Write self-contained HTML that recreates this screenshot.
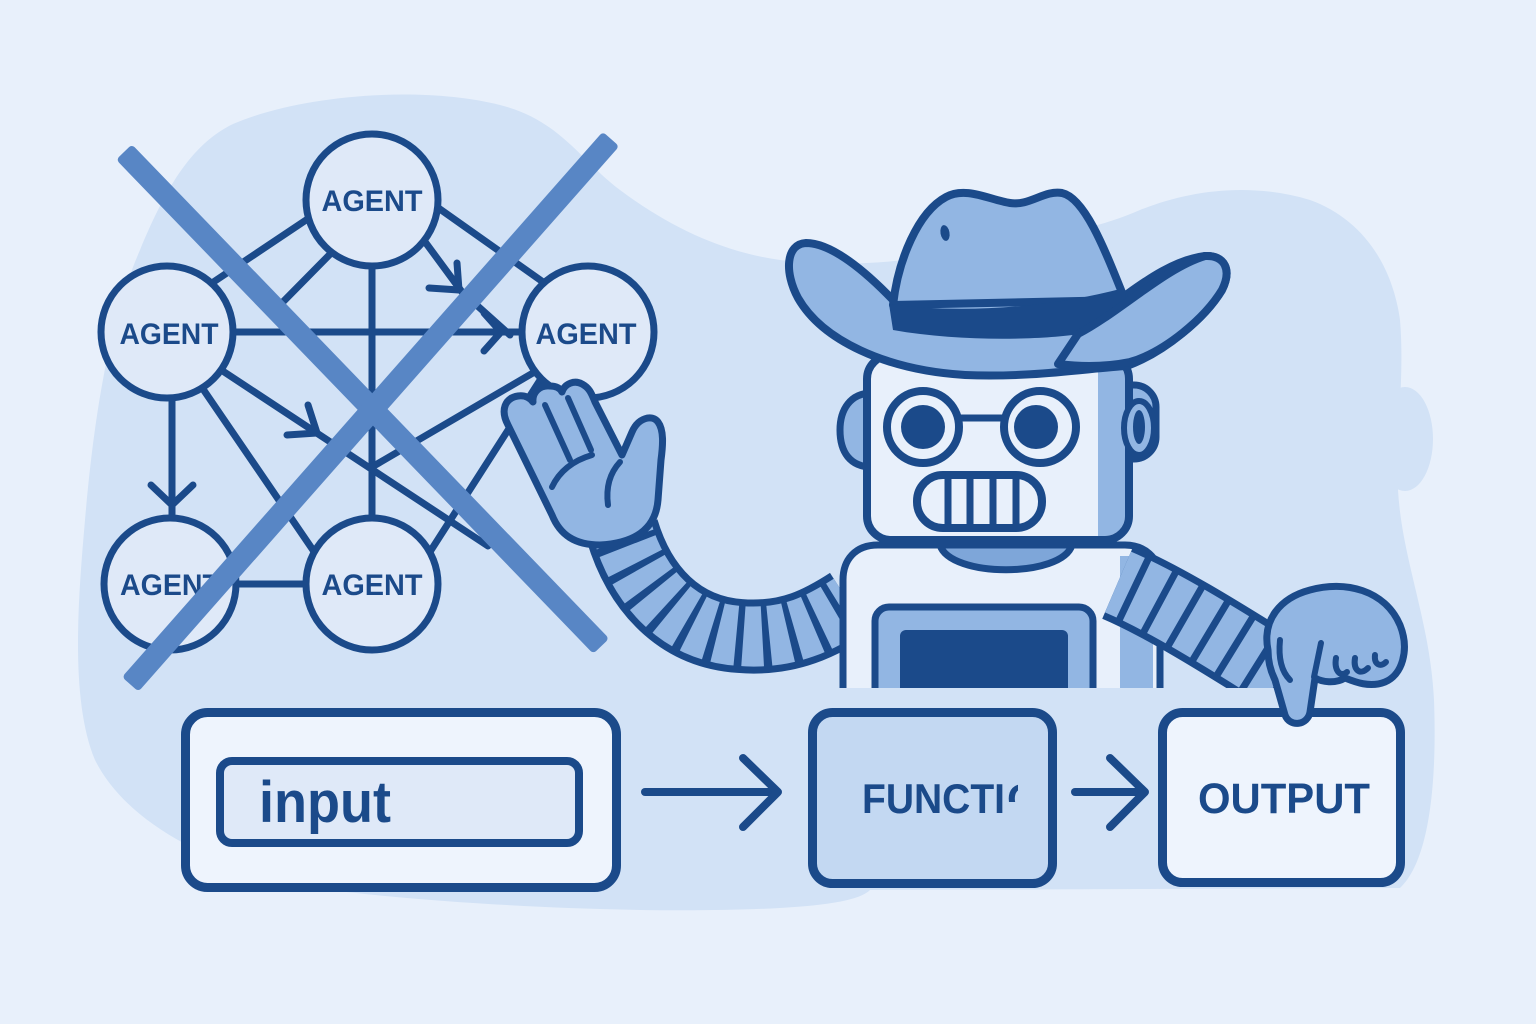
<!DOCTYPE html>
<html><head><meta charset="utf-8"><style>
html,body{margin:0;padding:0;background:#e8f0fb;}
svg{display:block;}
text{font-family:"Liberation Sans",Arial,sans-serif;font-weight:bold;fill:#1b4a8a;}
</style></head><body>
<svg width="1536" height="1024" viewBox="0 0 1536 1024" xmlns="http://www.w3.org/2000/svg">
<defs>
<clipPath id="cb"><rect x="0" y="0" width="1536" height="688"/></clipPath>
<clipPath id="co"><rect x="1004" y="770" width="14" height="32"/></clipPath>
<clipPath id="headclip"><rect x="871" y="359" width="254" height="177" rx="20"/></clipPath>
</defs>
<rect width="1536" height="1024" fill="#e8f0fb"/>
<!-- background blob -->
<path fill="#d2e2f6" d="M 233 124 C 300 95 420 85 500 105 C 560 120 580 160 620 190 C 680 235 740 258 800 262 C 860 266 900 262 960 252 C 1030 240 1090 232 1140 210 C 1190 190 1250 182 1310 200 C 1360 218 1392 262 1400 320 C 1405 380 1395 440 1398 490 C 1402 560 1430 620 1434 700 C 1437 780 1430 860 1400 888 L 870 890 C 860 900 830 905 780 908 C 650 915 450 905 330 890 C 230 875 130 830 95 760 C 70 700 78 600 85 520 C 92 440 105 330 140 250 C 165 190 190 145 233 124 Z"/>
<ellipse cx="1405" cy="439" rx="28" ry="52" fill="#d2e2f6"/>

<!-- network lines -->
<g stroke="#1b4a8a" stroke-width="7" stroke-linecap="round" stroke-linejoin="round" fill="none">
<line x1="330" y1="204" x2="200" y2="291"/>
<line x1="420" y1="195" x2="560" y2="294"/>
<polyline points="420,235 462,292 510,335"/>
<line x1="345" y1="239" x2="275" y2="310"/>
<line x1="372" y1="200" x2="372" y2="584"/>
<line x1="167" y1="332" x2="588" y2="332"/>
<line x1="200" y1="356" x2="488" y2="546"/>
<line x1="550" y1="363" x2="372" y2="467"/>
<line x1="190" y1="370" x2="330" y2="575"/>
<line x1="172" y1="380" x2="172" y2="530"/>
<line x1="170" y1="584" x2="372" y2="584"/>
<line x1="410" y1="583" x2="560" y2="349"/>
<!-- chevrons -->
<polyline points="429,288 459,290 457,263"/>
<polyline points="484,313 501,332 484,351"/>
<polyline points="287,435 317,433 308,405"/>
<polyline points="151,485 172,505 193,485"/>
</g>
<!-- agent circles -->
<g fill="#dfe9f8" stroke="#1b4a8a" stroke-width="7">
<circle cx="372" cy="200" r="66"/>
<circle cx="167" cy="332" r="66"/>
<circle cx="588" cy="332" r="66"/>
<circle cx="170" cy="584" r="66"/>
<circle cx="372" cy="584" r="66"/>
</g>
<g font-size="30" text-anchor="middle">
<text x="372" y="211" textLength="101" lengthAdjust="spacingAndGlyphs">AGENT</text>
<text x="169" y="344" textLength="99" lengthAdjust="spacingAndGlyphs">AGENT</text>
<text x="586" y="344" textLength="101" lengthAdjust="spacingAndGlyphs">AGENT</text>
<text x="170" y="595" textLength="100" lengthAdjust="spacingAndGlyphs">AGENT</text>
<text x="372" y="595" textLength="101" lengthAdjust="spacingAndGlyphs">AGENT</text>
</g>
<!-- X band -->
<g fill="#5886c5">
<rect x="0" y="-11" width="687" height="22" rx="4" transform="translate(124,152) rotate(46)"/>
<rect x="0" y="-11" width="727" height="22" rx="4" transform="translate(611,139) rotate(131.4)"/>
</g>

<!-- left arm -->
<g fill="none" stroke-linecap="butt">
<path d="M 622 530 C 640 590 680 632 740 636 C 790 640 822 622 850 604" stroke="#1b4a8a" stroke-width="74"/>
<path d="M 622 530 C 640 590 680 632 740 636 C 790 640 822 622 850 604" stroke="#92b6e3" stroke-width="60"/>
<path d="M 622 530 C 640 590 680 632 740 636 C 790 640 822 622 850 604" stroke="#1b4a8a" stroke-width="62" stroke-dasharray="7 19" stroke-dashoffset="-10"/>
</g>
<!-- left hand -->
<path fill="#92b6e3" stroke="#1b4a8a" stroke-width="7" stroke-linejoin="round" d="M 600 545 C 575 545 560 535 552 515 L 508 425 C 500 410 505 398 518 396 C 525 395 530 398 533 402 C 532 392 540 385 550 386 C 556 386 560 388 562 392 C 565 383 575 380 582 384 C 590 388 592 395 595 402 L 622 455 L 632 432 C 638 418 652 414 658 422 C 664 430 663 445 661 460 L 658 500 C 656 525 640 543 600 545 Z"/>
<g fill="none" stroke="#1b4a8a" stroke-width="6" stroke-linecap="round">
<line x1="545" y1="405" x2="570" y2="460"/>
<line x1="568" y1="398" x2="591" y2="450"/>
<path d="M 552 487 C 560 470 575 460 592 455"/>
<path d="M 620 462 C 608 475 606 490 608 505"/>
</g>

<!-- body -->
<g clip-path="url(#cb)">
<path d="M 843 700 L 843 580 C 843 560 855 545 878 545 L 1125 545 C 1145 545 1158 558 1160 575 L 1160 700 Z" fill="#e8f0fb" stroke="#1b4a8a" stroke-width="7"/>
<rect x="1120" y="556" width="33" height="140" fill="#92b6e3"/>
<rect x="875" y="607" width="218" height="100" rx="14" fill="#92b6e3" stroke="#1b4a8a" stroke-width="7"/>
<rect x="900" y="630" width="168" height="80" rx="6" fill="#1b4a8a"/>
<!-- right arm -->
<path d="M 1118 582 C 1160 600 1210 630 1292 682" fill="none" stroke="#1b4a8a" stroke-width="80"/>
<path d="M 1118 582 C 1160 600 1210 630 1292 682" fill="none" stroke="#92b6e3" stroke-width="66"/>
<path d="M 1118 582 C 1160 600 1210 630 1292 682" fill="none" stroke="#1b4a8a" stroke-width="68" stroke-dasharray="7 22" stroke-dashoffset="-14"/>
</g>
<!-- neck -->
<path d="M 940 545 C 950 578 1062 578 1072 545 Z" fill="#7ea6d9" stroke="#1b4a8a" stroke-width="7" stroke-linejoin="round"/>
<!-- ears -->
<path d="M 872 393 C 850 393 840 410 840 430 C 840 452 850 467 872 467 Z" fill="#92b6e3" stroke="#1b4a8a" stroke-width="7"/>
<rect x="1108" y="385" width="48" height="74" rx="22" fill="#92b6e3" stroke="#1b4a8a" stroke-width="7"/>
<!-- head -->
<rect x="867" y="355" width="262" height="185" rx="24" fill="#e8f0fb"/>
<g clip-path="url(#headclip)"><rect x="1098" y="355" width="30" height="185" fill="#92b6e3"/></g>
<rect x="867" y="355" width="262" height="185" rx="24" fill="none" stroke="#1b4a8a" stroke-width="8"/>
<ellipse cx="1139" cy="428" rx="15" ry="27" fill="#92b6e3" stroke="#1b4a8a" stroke-width="6"/>
<ellipse cx="1139" cy="427" rx="6" ry="17" fill="#1b4a8a"/>
<!-- glasses -->
<g stroke="#1b4a8a" stroke-width="8" fill="#e8f0fb">
<circle cx="923" cy="427" r="36"/>
<circle cx="1040" cy="427" r="36"/>
</g>
<circle cx="923" cy="427" r="22" fill="#1b4a8a"/>
<circle cx="1036" cy="427" r="22" fill="#1b4a8a"/>
<line x1="959" y1="418" x2="1004" y2="418" stroke="#1b4a8a" stroke-width="7"/>
<!-- mouth -->
<rect x="917" y="475" width="125" height="53" rx="26" fill="#e8f0fb" stroke="#1b4a8a" stroke-width="8"/>
<g stroke="#1b4a8a" stroke-width="7">
<line x1="948" y1="478" x2="948" y2="525"/>
<line x1="970" y1="478" x2="970" y2="525"/>
<line x1="993" y1="478" x2="993" y2="525"/>
<line x1="1016" y1="478" x2="1016" y2="525"/>
</g>

<!-- hat -->
<g stroke="#1b4a8a" stroke-width="8" stroke-linejoin="round">
<path fill="#92b6e3" d="M 893 300 C 866 272 832 243 806 243 C 786 244 784 272 798 298 C 822 340 885 370 965 375 C 1030 378 1090 368 1127 366 C 1165 352 1205 318 1222 290 C 1232 270 1225 255 1205 256 C 1172 260 1140 285 1123 297 Z"/>
<path fill="#92b6e3" d="M 893 305 C 898 260 918 212 946 197 C 966 186 990 200 1010 203 C 1030 206 1044 190 1062 193 C 1085 198 1105 250 1125 300 Z"/>
</g>
<path fill="#1b4a8a" d="M 889 304 C 960 314 1050 308 1124 288 L 1130 318 C 1110 330 1090 334 1080 334 C 1040 340 960 342 893 330 Z"/>
<path fill="#92b6e3" stroke="#1b4a8a" stroke-width="8" stroke-linejoin="round" d="M 1078 334 C 1120 312 1165 268 1205 256 C 1225 255 1232 270 1222 290 C 1205 318 1165 352 1130 362 C 1100 368 1075 366 1058 364 Z"/>
<ellipse cx="945" cy="233" rx="4.5" ry="8" fill="#1b4a8a" transform="rotate(-10 945 233)"/>

<!-- flow boxes -->
<rect x="185.5" y="712.5" width="431" height="175" rx="22" fill="#eef4fd" stroke="#1b4a8a" stroke-width="9"/>
<rect x="220" y="761" width="359" height="82" rx="12" fill="#dfe9f8" stroke="#1b4a8a" stroke-width="8"/>
<text x="259" y="822" font-size="58" textLength="132" lengthAdjust="spacingAndGlyphs">input</text>

<rect x="812.5" y="712.5" width="240" height="171" rx="20" fill="#c3d8f2" stroke="#1b4a8a" stroke-width="9"/>
<text x="862" y="813" font-size="42" textLength="143" lengthAdjust="spacingAndGlyphs">FUNCTI</text>
<g clip-path="url(#co)"><text x="1007" y="813" font-size="42">O</text></g>

<rect x="1162.5" y="712.5" width="238" height="170" rx="20" fill="#eef4fd" stroke="#1b4a8a" stroke-width="9"/>
<text x="1284" y="813" font-size="43" text-anchor="middle" textLength="172" lengthAdjust="spacingAndGlyphs">OUTPUT</text>

<g stroke="#1b4a8a" stroke-width="8" stroke-linecap="round" stroke-linejoin="round" fill="none">
<line x1="645" y1="792" x2="776" y2="792"/>
<polyline points="743,758 778,792 743,827"/>
<line x1="1075" y1="792" x2="1143" y2="792"/>
<polyline points="1110,758 1145,792 1110,827"/>
</g>

<!-- right hand -->
<path fill="#92b6e3" stroke="#1b4a8a" stroke-width="7" stroke-linejoin="round" d="M 1268 650 C 1262 620 1280 598 1310 590 C 1345 580 1385 590 1400 625 C 1410 650 1402 675 1385 682 C 1370 688 1355 682 1345 678 C 1335 684 1322 682 1315 678 L 1310 712 C 1308 725 1290 728 1285 715 L 1275 680 C 1270 670 1268 660 1268 650 Z"/>
<g fill="none" stroke="#1b4a8a" stroke-width="6" stroke-linecap="round">
<path d="M 1321 643 L 1314 677"/>
<path d="M 1336 658 C 1334 670 1340 678 1347 672"/>
<path d="M 1355 658 C 1353 670 1360 676 1368 668"/>
<path d="M 1375 655 C 1374 664 1380 668 1386 662"/>
<path d="M 1280 640 C 1278 660 1282 672 1290 680"/>
</g>
</svg>
</body></html>
